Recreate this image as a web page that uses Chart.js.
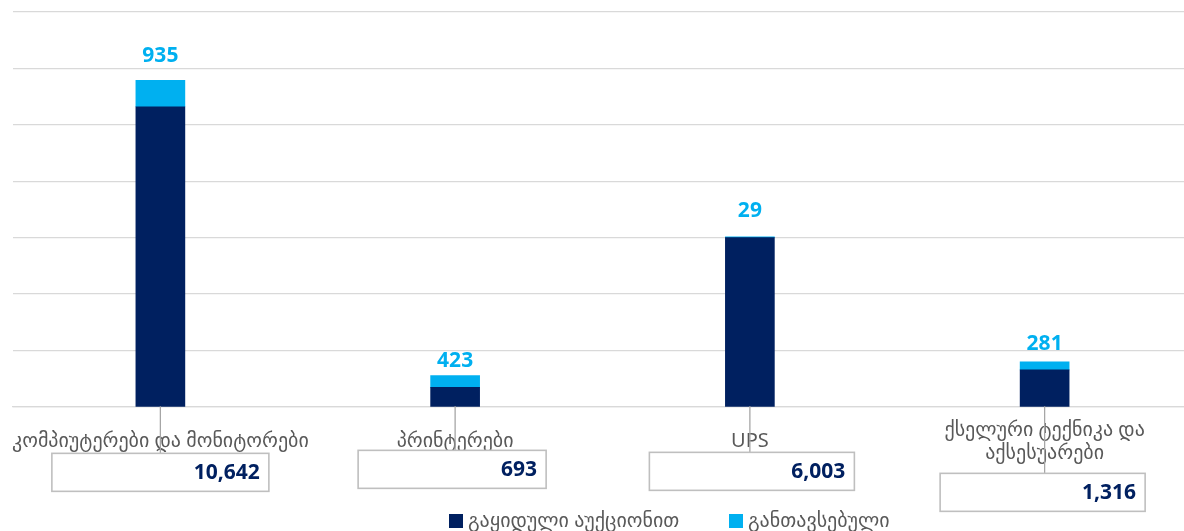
<!DOCTYPE html>
<html>
<head>
<meta charset="utf-8">
<script src="https://cdn.jsdelivr.net/npm/chart.js@4.4.1/dist/chart.umd.min.js"></script>
<style>
  html, body { margin:0; padding:0; background:#fff; overflow:hidden; }
  #wrap { width:1192px; height:531px; position:relative; }
</style>
</head>
<body>
<div id="wrap"><canvas id="chart"></canvas></div>
<script>
// data
const categories = [
  ['კომპიუტერები და მონიტორები'],
  ['პრინტერები'],
  ['UPS'],
  ['ქსელური ტექნიკა და', 'აქსესუარები']
];
const soldAuction = [10642, 693, 6003, 1316];
const placed = [935, 423, 29, 281];
const seriesNames = ['გაყიდული აუქციონით', 'განთავსებული'];
const yMax = 14000;
const yStep = 2000;

// label layout (Excel had these dragged around by hand)
const boxWidth = [217, 188, 205, 205];
const boxDrop = [47, 44, 46, 67];
const boxShift = [0, -3, 2, -2];
const topLift = [24, 14, 26, 18];

const NAVY = '#002060', SKY = '#00B0F0', GREY = '#595959', GRID = '#d9d9d9';
const textFont = '"Noto Sans", "DejaVu Sans", sans-serif';

const fmt = v => v.toLocaleString('en-US');

const labelPlugin = {
  id: 'labels',
  afterDatasetsDraw(chart){
    const ctx = chart.ctx;
    const bottom = chart.getDatasetMeta(0).data;
    const top = chart.getDatasetMeta(1).data;
    ctx.save();
    bottom.forEach((bar, i) => {
      const cx = bar.x + boxShift[i];
      const bTop = bar.base + boxDrop[i];
      // leader line
      ctx.strokeStyle = '#a6a6a6';
      ctx.lineWidth = 1.3;
      ctx.beginPath();
      ctx.moveTo(bar.x, bar.base);
      ctx.lineTo(bar.x, bTop);
      ctx.stroke();
      // box
      ctx.fillStyle = '#fff';
      ctx.strokeStyle = '#bfbfbf';
      ctx.lineWidth = 1.6;
      ctx.fillRect(cx - boxWidth[i]/2, bTop, boxWidth[i], 38);
      ctx.strokeRect(cx - boxWidth[i]/2, bTop, boxWidth[i], 38);
      ctx.fillStyle = NAVY;
      ctx.font = 'bold 21px ' + textFont;
      ctx.textAlign = 'right';
      ctx.textBaseline = 'middle';
      ctx.fillText(fmt(soldAuction[i]), cx + boxWidth[i]/2 - 9, bTop + 20);
    });
    top.forEach((bar, i) => {
      ctx.fillStyle = SKY;
      ctx.font = 'bold 21px ' + textFont;
      ctx.textAlign = 'center';
      ctx.textBaseline = 'middle';
      ctx.fillText(fmt(placed[i]), bar.x, bar.y - topLift[i]);
    });
    ctx.restore();
  },
  afterDraw(chart){
    // legend, sitting off-centre like the original
    const ctx = chart.ctx;
    const starts = [449, 729];
    ctx.save();
    chart.data.datasets.forEach((ds, i) => {
      ctx.fillStyle = ds.backgroundColor;
      ctx.fillRect(starts[i], 514, 14, 14);
      ctx.fillStyle = GREY;
      ctx.font = '20px ' + textFont;
      ctx.textAlign = 'left';
      ctx.textBaseline = 'middle';
      ctx.fillText(ds.label, starts[i] + 19, 521);
    });
    ctx.restore();
  }
};

new Chart(document.getElementById('chart'), {
  type: 'bar',
  data: {
    labels: categories,
    datasets: [
      { label: seriesNames[0], data: soldAuction, backgroundColor: NAVY, barThickness: 49 },
      { label: seriesNames[1], data: placed, backgroundColor: SKY, barThickness: 49 }
    ]
  },
  options: {
    responsive: true,
    maintainAspectRatio: false,
    animation: false,
    layout: { padding: { left: 13, top: 12, right: 0, bottom: 0 } },
    plugins: { legend: { display: false }, tooltip: { enabled: false } },
    scales: {
      x: {
        stacked: true,
        grid: { display: false, drawTicks: false },
        border: { color: GRID, width: 1.3 },
        ticks: {
          color: GREY,
          font: { family: textFont, size: 20, lineHeight: 1.15 },
          padding: 23,
          crossAlign: 'center',
          maxRotation: 0, minRotation: 0, autoSkip: false
        },
        afterFit(scale){
          scale.height = 124;
          scale.paddingLeft = 0;
          scale.paddingRight = 0;
        }
      },
      y: {
        stacked: true,
        min: 0, max: yMax,
        ticks: { display: false, stepSize: yStep },
        grid: { color: GRID, lineWidth: 1.3, drawTicks: false },
        border: { display: false },
        afterFit(scale){ scale.width = 0; }
      }
    }
  },
  plugins: [labelPlugin]
});
</script>
</body>
</html>
